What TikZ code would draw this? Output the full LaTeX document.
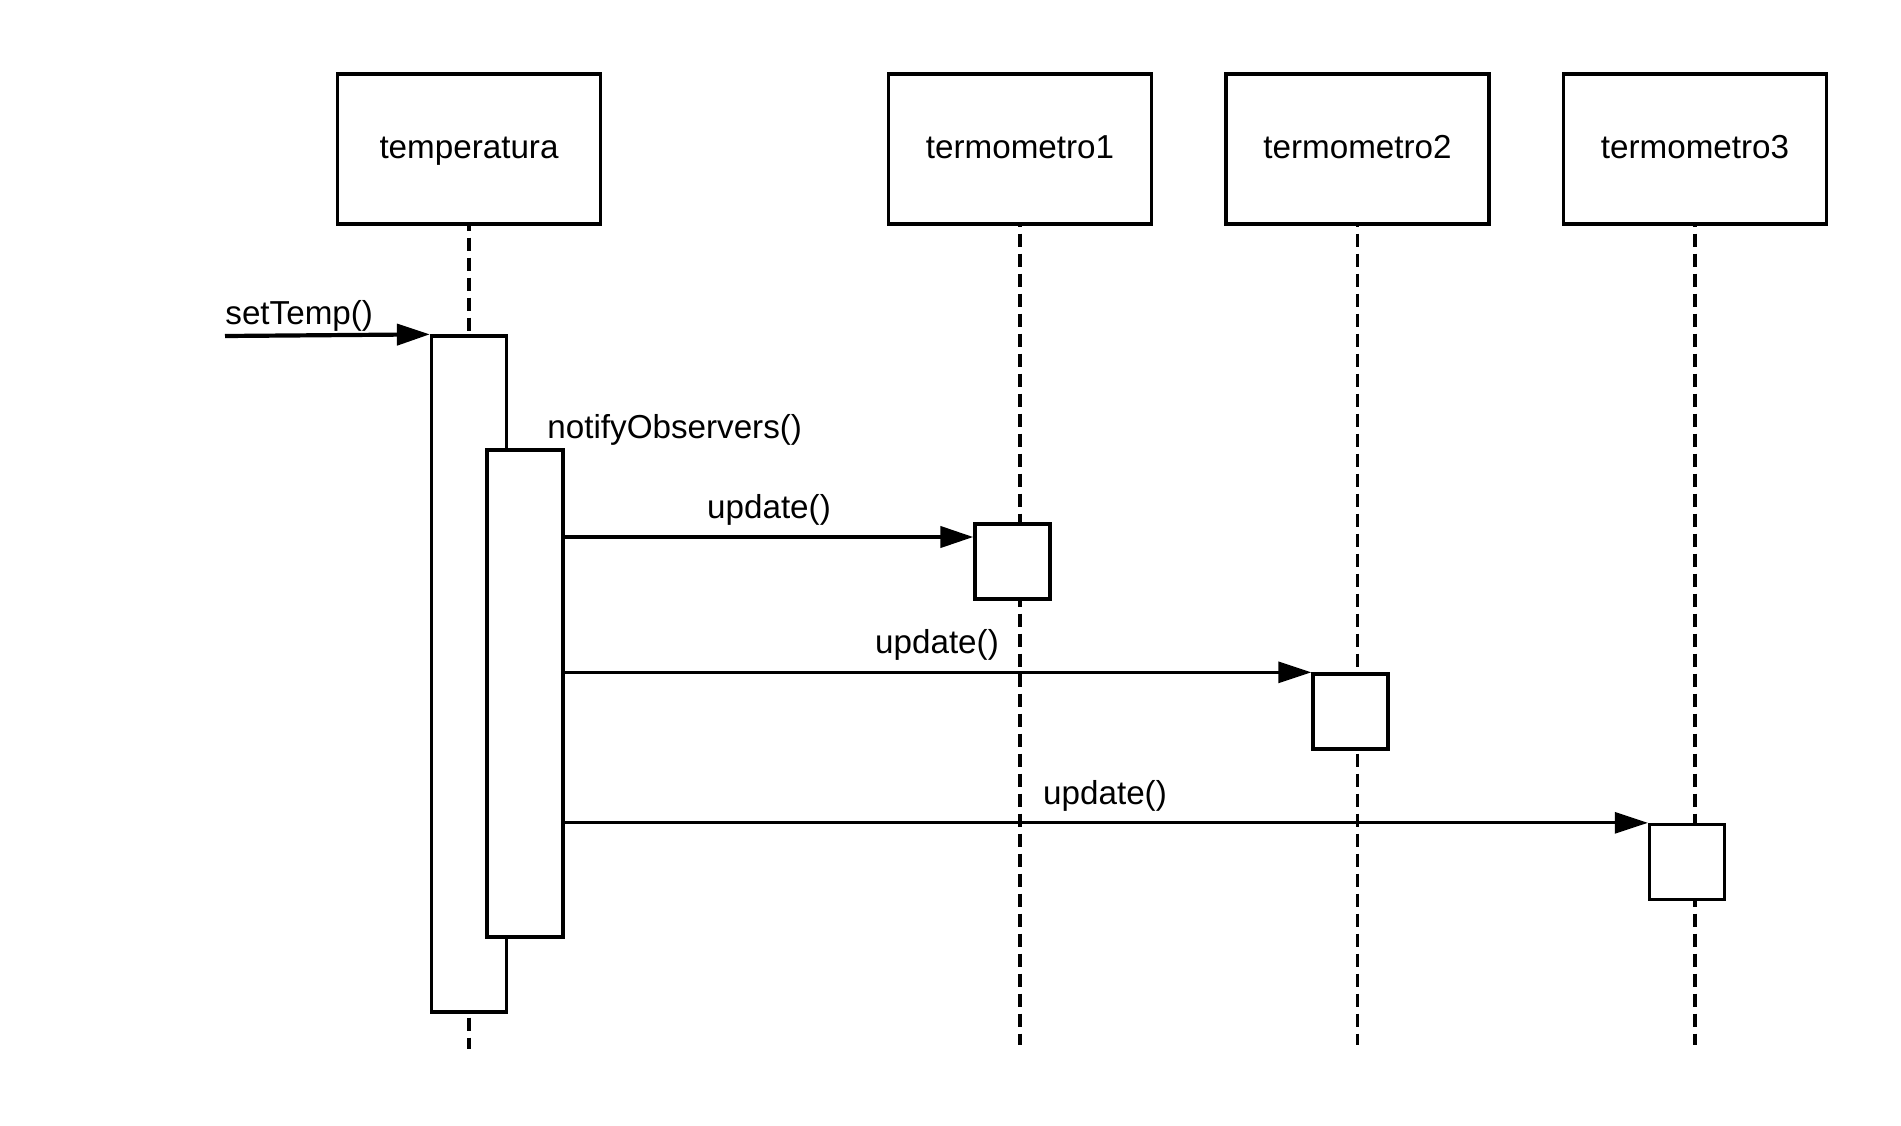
\documentclass[tikz,border=0pt]{standalone}
\usepackage{fontspec}
\setmainfont{Liberation Sans}
\usetikzlibrary{arrows.meta}
\begin{document}
\begin{tikzpicture}[x=0.5pt,y=-0.5pt,
  font=\fontsize{16.6pt}{20pt}\selectfont,
  head/.style={draw,line width=1.65pt,fill=white,minimum width=131.5pt,minimum height=75pt,inner sep=0pt,text height=1.2em,text depth=0.3em},
  actbox/.style={draw,line width=1.65pt,fill=white,inner sep=0pt,minimum width=37.5pt},
  life/.style={line width=1.7pt,dash pattern=on 6.5pt off 3.5pt},
  msg/.style={line width=1.5pt,-{Triangle[length=16.5pt,width=10.5pt]}},
  msgb/.style={line width=2.1pt,-{Triangle[length=16.5pt,width=10.5pt]}},
  lbl/.style={inner sep=0pt}]
\useasboundingbox (0,0) rectangle (1901,1125);
\fill[white] (0,0) rectangle (1901,1125);
% heads
\node[head] (temp) at (469,149) {temperatura};
\node[head] (t1) at (1020,149) {termometro1};
\node[head] (t2) at (1357.5,149) {termometro2};
\node[head] (t3) at (1695,149) {termometro3};
% lifeline ends
\coordinate (e0) at (469,1049);
\coordinate (e1) at (1020,1045);
\coordinate (e2) at (1357.5,1045);
\coordinate (e3) at (1695,1045);
\draw[life,dash phase=4pt] (temp.south) -- (e0);
\draw[life,dash phase=6pt] (t1.south) -- (e1);
\draw[life,dash phase=6pt] (t2.south) -- (e2);
\draw[life,dash phase=6pt] (t3.south) -- (e3);
% activations
\node[actbox,minimum height=338pt] (act1) at (469,674) {};
\node[actbox,minimum width=38pt,minimum height=243.5pt] (act2) at (525,693.5) {};
\node[actbox,minimum height=37.5pt] (ab1) at (1012.5,561.5) {};
\node[actbox,minimum height=37.5pt] (ab2) at (1350.5,711.5) {};
\node[actbox,minimum height=37.5pt] (ab3) at (1687,862) {};
% messages
\coordinate (src) at (225,336);
\draw[msgb] (src) -- (act1.north west);
\coordinate (u1) at ([yshift=12.25pt]ab1.west);
\draw[msgb] (act2.east |- u1) -- (u1);
\draw[msg] (act2.east |- ab2.north west) -- (ab2.north west);
\draw[msg] (act2.east |- ab3.north west) -- (ab3.north west);
% labels
\node[lbl,anchor=west] (l0) at (225,316) {setTemp()};
\node[lbl,anchor=west] (l1) at (547,430) {notifyObservers()};
\node[lbl] (l2) at (769,510) {update()};
\node[lbl] (l3) at (937,645) {update()};
\node[lbl] (l4) at (1105,796) {update()};
\end{tikzpicture}
\end{document}
